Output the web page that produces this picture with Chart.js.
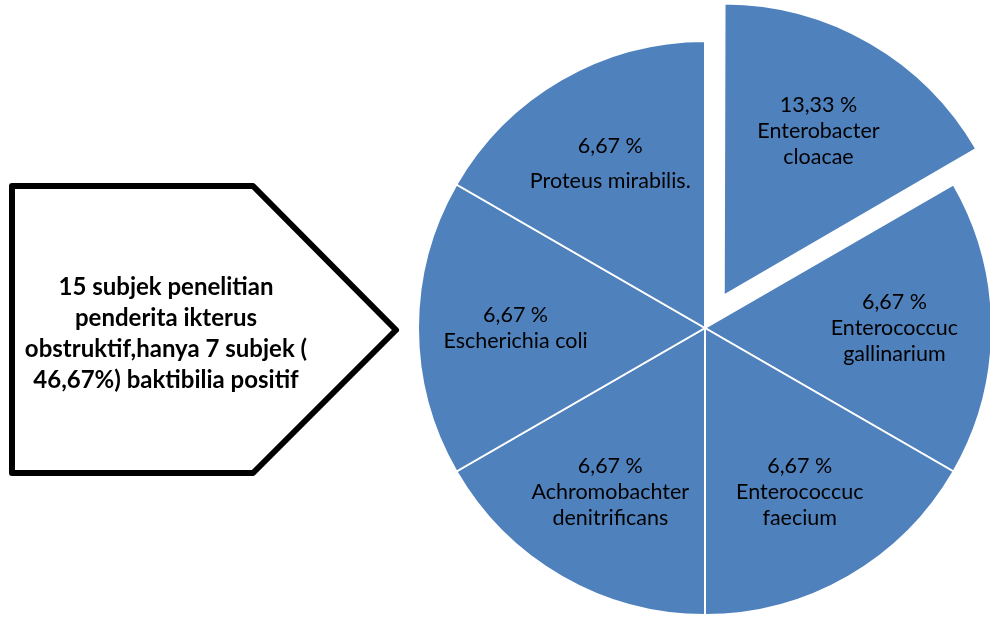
<!DOCTYPE html>
<html>
<head>
<meta charset="utf-8">
<script src="https://cdn.jsdelivr.net/npm/chart.js@4.4.0/dist/chart.umd.min.js"></script>
<style>
  html, body { margin: 0; padding: 0; background: #ffffff; }
  #wrap { width: 990px; height: 619px; position: relative; }
</style>
</head>
<body>
<div id="wrap"><canvas id="myChart"></canvas></div>
<script>
'use strict';
// nama bakteri (urutan searah jarum jam dari atas)
const categories = [
  ['Enterobacter', 'cloacae'],
  ['Enterococcuc', 'gallinarium'],
  ['Enterococcuc', 'faecium'],
  ['Achromobachter', 'denitrificans'],
  ['Escherichia coli'],
  ['Proteus mirabilis.']
];
// label persen yang tertulis di tiap potongan
const percentLabels = ['13,33 %', '6,67 %', '6,67 %', '6,67 %', '6,67 %', '6,67 %'];
// ukuran potongan seperti yang tergambar (semua sama besar)
const sliceValues = [1, 1, 1, 1, 1, 1];
// teks di dalam panah kiri
const calloutLines = [
  '15 subjek penelitian',
  'penderita ikterus',
  'obstruktif,hanya 7 subjek (',
  '46,67%) baktibilia positif'
];

const labelFont = '21.5px Lato, "Open Sans", sans-serif';
const boldFont = 'bold 24px Lato, "Open Sans", sans-serif';

// panah kotak di sebelah kiri
const calloutPlugin = {
  id: 'callout',
  beforeDraw(chart) {
    const ctx = chart.ctx;
    ctx.save();
    ctx.beginPath();
    ctx.moveTo(12, 186);
    ctx.lineTo(253, 186);
    ctx.lineTo(396, 330);
    ctx.lineTo(253, 473);
    ctx.lineTo(12, 473);
    ctx.closePath();
    ctx.fillStyle = '#ffffff';
    ctx.fill();
    ctx.lineWidth = 6;
    ctx.lineJoin = 'round';
    ctx.strokeStyle = '#000000';
    ctx.stroke();
    ctx.fillStyle = '#000000';
    ctx.font = boldFont;
    ctx.textAlign = 'center';
    ctx.textBaseline = 'middle';
    for (let i = 0; i < calloutLines.length; i++) {
      ctx.fillText(calloutLines[i], 166, 287 + i * 31);
    }
    ctx.restore();
  }
};

// label di dalam potongan
const sliceLabelPlugin = {
  id: 'sliceLabels',
  afterDatasetsDraw(chart) {
    const ctx = chart.ctx;
    const meta = chart.getDatasetMeta(0);
    const gaps = chart.data.datasets[0].labelGap;
    ctx.save();
    ctx.font = labelFont;
    ctx.fillStyle = '#000000';
    ctx.textAlign = 'center';
    ctx.textBaseline = 'middle';
    meta.data.forEach((arc, i) => {
      const p = arc.getProps(['x', 'y', 'startAngle', 'endAngle', 'outerRadius'], true);
      const mid = (p.startAngle + p.endAngle) / 2;
      const shift = (arc.options.offset || 0) / 4;
      const r = p.outerRadius * 0.66 + shift;
      const cx = p.x + Math.cos(mid) * r;
      const cy = p.y + Math.sin(mid) * r;
      const lines = [percentLabels[i]].concat(categories[i]);
      const lh = 26;
      const gap = gaps[i];
      const total = (lines.length - 1) * lh + gap;
      let y = cy - total / 2;
      lines.forEach((t, k) => {
        ctx.fillText(t, cx, y);
        y += lh + (k === 0 ? gap : 0);
      });
    });
    ctx.restore();
  }
};

const data = {
  labels: categories.map(c => c.join(' ')),
  datasets: [{
    data: sliceValues,
    backgroundColor: '#4f81bd',
    borderColor: '#ffffff',
    borderWidth: 2,
    offset: [150, 0, 0, 0, 0, 0],
    labelGap: [0, 0, 0, 0, 0, 9]
  }]
};

const config = {
  type: 'pie',
  data: data,
  options: {
    responsive: false,
    animation: false,
    radius: 287,
    layout: { padding: { left: 420, top: 37, right: 0, bottom: 0 } },
    plugins: {
      legend: { display: false },
      tooltip: { enabled: false }
    }
  },
  plugins: [calloutPlugin, sliceLabelPlugin]
};

const cv = document.getElementById('myChart');
cv.width = 990;
cv.height = 619;
const myChart = new Chart(cv, config);
</script>
</body>
</html>
